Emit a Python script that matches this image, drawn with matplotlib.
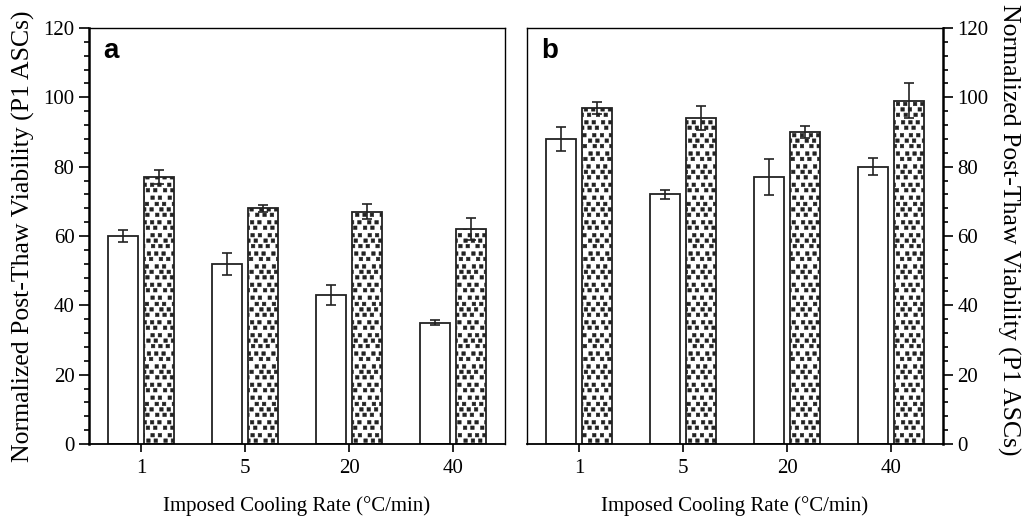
import matplotlib
matplotlib.use("Agg")
import matplotlib.pyplot as plt
import numpy as np
from matplotlib import hatch as mhatch
from matplotlib.path import Path
from matplotlib.ticker import MultipleLocator

# Cooling rates (°C/min)
rates = ["1", "5", "20", "40"]

# Panel a
a_open = [60, 52, 43, 35]
a_open_err = [1.7, 3.2, 3.0, 0.7]
a_dotted = [77, 68, 67, 62]
a_dotted_err = [2.0, 1.0, 2.2, 3.2]

# Panel b
b_open = [88, 72, 77, 80]
b_open_err = [3.5, 1.2, 5.1, 2.5]
b_dotted = [97, 94, 90, 99]
b_dotted_err = [1.7, 3.4, 1.6, 5.0]


class ScatteredSquares(mhatch.HatchPatternBase):
    """Fill texture of small squares on a staggered, slightly shifted
    lattice; selected with '*' in a hatch string."""
    rows, cols, side = 16, 12, 0.035

    def __init__(self, hatch, density):
        self.active = hatch.count("*") > 0
        n = self.rows * self.cols if self.active else 0
        self.num_vertices = n * 5

    def set_vertices_and_codes(self, vertices, codes):
        h = self.side / 2
        sq = np.array([[-h, -h], [h, -h], [h, h], [-h, h], [-h, -h]])
        sq_codes = [Path.MOVETO, Path.LINETO, Path.LINETO, Path.LINETO,
                    Path.CLOSEPOLY]
        k = 0
        for r in range(self.rows):
            for c in range(self.cols):
                dx = (((r * 7 + c * 3) % 5) - 2) * 0.005
                dy = (((r * 3 + c * 5) % 5) - 2) * 0.004
                x = (c + 0.5 * (r % 2) + 0.25) / self.cols + dx
                y = (r + 0.5) / self.rows + dy
                x = min(max(x, h + 0.002), 1 - h - 0.002)
                y = min(max(y, h + 0.002), 1 - h - 0.002)
                vertices[k:k + 5] = sq + [x, y]
                codes[k:k + 5] = sq_codes
                k += 5


mhatch._hatch_types[:] = [t for t in mhatch._hatch_types
                          if t is not mhatch.Stars] + [ScatteredSquares]

plt.rcParams["hatch.linewidth"] = 0.4
plt.rcParams["hatch.color"] = "black"

serif = "Liberation Serif"
sans = "Liberation Sans"

fig = plt.figure(figsize=(10.23, 5.19), dpi=100)
ax_a = fig.add_axes([89 / 1023, 75 / 519, 416 / 1023, 416 / 519])
ax_b = fig.add_axes([527 / 1023, 75 / 519, 416 / 1023, 416 / 519])

w = 0.29
off = 0.175


def draw(ax, open_vals, open_err, dot_vals, dot_err, letter, side):
    x = np.arange(len(rates))
    ax.bar(x - off, open_vals, width=w, facecolor="white",
           edgecolor="#222222", linewidth=1.3, zorder=2)
    ax.bar(x + off, dot_vals, width=w, facecolor="white",
           edgecolor="#222222", linewidth=1.3, hatch="*", zorder=2)
    ax.errorbar(x - off, open_vals, yerr=open_err, fmt="none",
                ecolor="#222222", elinewidth=1.2, capsize=3.8,
                capthick=1.2, zorder=3)
    ax.errorbar(x + off, dot_vals, yerr=dot_err, fmt="none",
                ecolor="#222222", elinewidth=1.2, capsize=3.8,
                capthick=1.2, zorder=3)
    ax.set_xlim(-0.5, len(rates) - 0.5)
    ax.set_ylim(0, 120)
    ax.set_xticks(x)
    ax.set_xticklabels(rates)
    ax.yaxis.set_major_locator(MultipleLocator(20))
    ax.yaxis.set_minor_locator(MultipleLocator(4))
    ax.tick_params(axis="x", which="major", direction="out", length=6,
                   width=1.2, pad=5, labelsize=15, labelfontfamily=serif)
    ax.tick_params(axis="y", which="major", direction="out", length=7.5,
                   width=1.2, pad=3, labelsize=15, labelfontfamily=serif)
    ax.tick_params(axis="y", which="minor", direction="out", length=3.8,
                   width=1.2)
    for s in ax.spines.values():
        s.set_linewidth(1.0)
    ax.spines["bottom"].set_linewidth(1.3)
    ylabel = "Normalized Post-Thaw Viability (P1 ASCs)"
    if side == "left":
        ax.spines["left"].set_linewidth(1.8)
        ax.set_ylabel(ylabel, fontfamily=serif, fontsize=18.5, labelpad=6)
    else:
        ax.spines["right"].set_linewidth(1.8)
        ax.yaxis.tick_right()
        ax.yaxis.set_label_position("right")
        ax.tick_params(axis="y", which="both", left=False, right=True,
                       labelleft=False, labelright=True)
        ax.set_ylabel(ylabel, fontfamily=serif, fontsize=18.5, rotation=-90,
                      labelpad=6, va="bottom")
        ax.yaxis.label.set_y(0.515)
    ax.set_xlabel("Imposed Cooling Rate (°C/min)", fontfamily=serif,
                  fontsize=15, labelpad=13)
    ax.text(0.034, 0.976, letter, transform=ax.transAxes, fontfamily=sans,
            fontweight="bold", fontsize=20, ha="left", va="top")


draw(ax_a, a_open, a_open_err, a_dotted, a_dotted_err, "a", "left")
draw(ax_b, b_open, b_open_err, b_dotted, b_dotted_err, "b", "right")

fig.savefig("out.png", dpi=100)
